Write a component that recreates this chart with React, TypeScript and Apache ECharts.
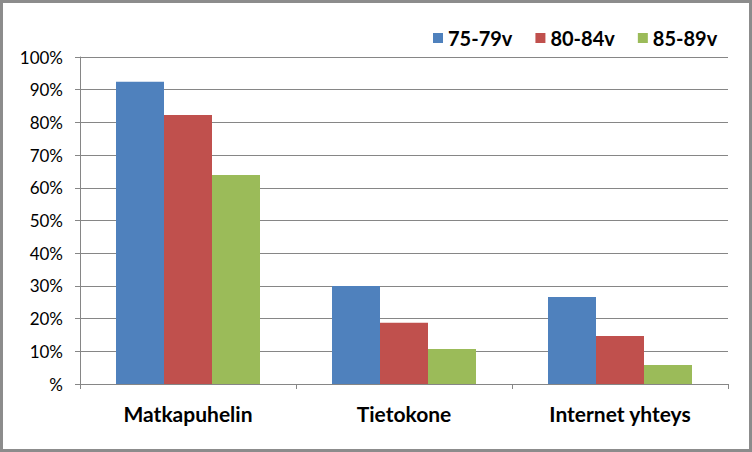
import React, { useEffect, useRef } from "react";
import * as echarts from "echarts";

const categories = ["Matkapuhelin", "Tietokone", "Internet yhteys"];
const seriesNames = ["75-79v", "80-84v", "85-89v"];
const s7579 = [92.4, 30.0, 26.6];
const s8084 = [82.3, 18.7, 14.7];
const s8589 = [63.9, 10.7, 5.8];
const colors = ["#4F81BD", "#C0504D", "#9BBB59"];

export default function App() {
  const ref = useRef<HTMLDivElement>(null);
  useEffect(() => {
    const chart = echarts.init(ref.current!, null, { renderer: "svg" });
    const data = [s7579, s8084, s8589];
    chart.setOption({
      animation: false,
      backgroundColor: "#ffffff",
      textStyle: { fontFamily: "Lato, 'Open Sans', sans-serif" },
      graphic: [
        {
          type: "rect",
          shape: { x: 1.5, y: 1.5, width: 749, height: 449 },
          style: { fill: "none", stroke: "#8c8c8c", lineWidth: 3 },
          silent: true,
          z: 100,
        },
      ],
      legend: {
        left: 433,
        top: 28,
        padding: 0,
        itemWidth: 10,
        itemHeight: 10,
        itemGap: 23,
        icon: "rect",
        textStyle: { fontSize: 20, fontWeight: "bold", color: "#000", fontFamily: "Lato, sans-serif" },
        data: seriesNames,
      },
      grid: { left: 80, right: 24, top: 57, bottom: 68, containLabel: false },
      xAxis: {
        type: "category",
        data: categories,
        axisLine: { lineStyle: { color: "#868686", width: 1 } },
        axisTick: { show: true, length: 5, lineStyle: { color: "#868686" } },
        axisLabel: { fontSize: 21, fontWeight: "bold", color: "#000", margin: 19, fontFamily: "Lato, sans-serif" },
      },
      yAxis: {
        type: "value",
        min: 0,
        max: 100,
        interval: 10,
        axisLine: { show: true, lineStyle: { color: "#868686", width: 1 } },
        axisTick: { show: true, length: 5, lineStyle: { color: "#868686" } },
        splitLine: { lineStyle: { color: "#868686", width: 1 } },
        axisLabel: {
          fontSize: 17,
          color: "#000",
          margin: 17,
          formatter: (v: number) => (v === 0 ? "%" : v + "%"),
        },
      },
      series: seriesNames.map((n, i) => ({
        name: n,
        type: "bar",
        data: data[i],
        barWidth: 48,
        barGap: "0%",
        itemStyle: { color: colors[i] },
      })),
    });
    return () => chart.dispose();
  }, []);
  return (
    <div
      ref={ref}
      style={{ position: "absolute", left: 0, top: 0, width: 752, height: 452 }}
    />
  );
}
